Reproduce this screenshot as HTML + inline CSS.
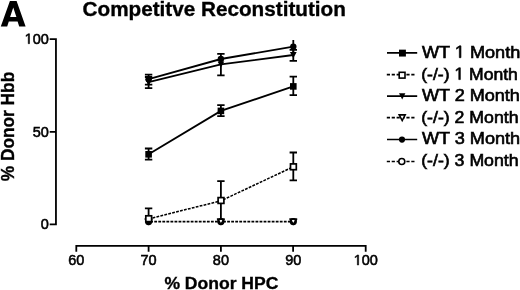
<!DOCTYPE html>
<html><head><meta charset="utf-8"><style>
html,body{margin:0;padding:0;background:#fff;}
svg{display:block;will-change:transform;}
text{font-family:"Liberation Sans",sans-serif;fill:#000;}
.b{font-weight:bold;stroke:#000;stroke-width:0.35px;}
</style></head><body>
<svg width="520" height="290" viewBox="0 0 520 290">
<rect width="520" height="290" fill="#fff"/>
<path fill="#000" fill-rule="evenodd" d="M0.8 26.5L9.9 1H16.6L25.6 26.5H19.2L17.6 21.4H8.8L7.2 26.5ZM10.1 17.1L13.25 7.4L16.4 17.1Z"/>
<text transform="translate(82.6 15.6) scale(1.005 1)" class="b" font-size="20.6">Competitve Reconstitution</text>

<!-- y axis -->
<g stroke="#000" stroke-width="1.8" fill="none">
<path d="M49.7 39.2H55.95V224.3H49.7M49.7 131.9H55.95"/>
<path d="M76.3 251.8V245.85H365.7V251.8M148.6 245.85V251.8M220.9 245.85V251.8M293.1 245.85V251.8"/>
</g>
<g font-size="14.5" text-anchor="end" stroke="#000" stroke-width="0.55">
<text x="48.8" y="43.7">&#8199;00</text>
<text x="48.8" y="136.8">50</text>
<text x="48.8" y="228.9">0</text>
<path transform="translate(24.597 43.7) scale(0.007080 -0.007080)" d="M515 0H696V1409H530L197 1180V1010L515 1237Z" stroke-width="77"/>
</g>
<g font-size="14.5" text-anchor="middle" stroke="#000" stroke-width="0.55">
<text x="76.3" y="265">60</text>
<text x="148.6" y="265">70</text>
<text x="220.9" y="265">80</text>
<text x="293.2" y="265">90</text>
<text x="365.8" y="265">&#8199;00</text>
<path transform="translate(353.698 265) scale(0.007080 -0.007080)" d="M515 0H696V1409H530L197 1180V1010L515 1237Z" stroke-width="77"/>
</g>
<text transform="translate(164.4 288.5) scale(1.02 1)" class="b" font-size="17.2">% Donor HPC</text>
<text transform="translate(13.6 181.2) scale(1.04 1) rotate(-90)" class="b" font-size="17.3">% Donor Hbb</text>

<!-- series lines -->
<g stroke="#000" stroke-width="1.85" fill="none">
<polyline points="148.6,154.3 220.9,110.9 293.3,86.4"/>
<polyline points="148.6,82.2 220.9,64.4 293.3,55"/>
<polyline points="148.6,79.2 220.9,59 293.3,46.6"/>
</g>
<g stroke="#000" stroke-width="1.55" fill="none" stroke-dasharray="2.8 1.25">
<polyline points="148.6,218.9 220.9,200.8 293.3,166.8"/>
<polyline points="148.6,221.6 220.9,221.6 293.3,221.6" stroke-dashoffset="-1.6"/>
</g>

<!-- error bars -->
<g stroke="#000" stroke-width="1.8" fill="none">
<!-- WT 1M -->
<path d="M148.6 148.5V159.6M144.9 148.5H152.3M144.9 159.6H152.3"/>
<path d="M220.9 105.2V116.2M217.2 105.2H224.6M217.2 116.2H224.6"/>
<path d="M293.3 76.7V95.2M289.6 76.7H297M289.6 95.2H297"/>
<!-- -/- 1M -->
<path d="M148.6 208.3V218.6M144.9 208.3H152.3"/>
<path d="M220.9 181.1V219.7M217.2 181.1H224.6"/>
<path d="M293.3 152.5V180.3M289.6 152.5H297M289.6 180.3H297"/>
<!-- WT 3M -->
<path d="M148.6 74.7V84.6M144.9 74.7H152.3M144.9 84.6H152.3"/>
<path d="M220.9 53.9V63M217.2 53.9H224.6"/>
<path d="M293.3 40V52"/>
<!-- WT 2M -->
<path d="M148.6 77V88.1M144.9 77H152.3M144.9 88.1H152.3"/>
<path d="M220.9 60V75.3M217.2 75.3H224.6"/>
<path d="M293.3 49.9V60.8M289.6 49.9H297M289.6 60.8H297"/>
</g>

<!-- markers -->
<g fill="#000" stroke="none">
<rect x="145.3" y="151" width="6.6" height="6.6"/>
<rect x="217.6" y="107.6" width="6.6" height="6.6"/>
<rect x="290" y="83.1" width="6.6" height="6.6"/>
<path d="M145.2 79.2H152L148.6 85.4Z"/>
<path d="M217.5 61.4H224.3L220.9 67.6Z"/>
<path d="M289.9 52H296.7L293.3 58.2Z"/>
<circle cx="148.6" cy="79.2" r="3.2"/>
<circle cx="220.9" cy="59" r="3.2"/>
<circle cx="293.3" cy="46.6" r="3.2"/>
</g>
<g fill="#fff" stroke="#000" stroke-width="1.6" stroke-linejoin="round">
<path d="M145.3 219H151.9L148.6 224.3Z"/>
<path d="M217.6 219H224.2L220.9 224.3Z"/>
<path d="M290 219H296.6L293.3 224.3Z"/>
</g>
<g fill="none" stroke="#000" stroke-width="1.9">
<circle cx="148.6" cy="221.6" r="2.7" fill="#000"/>
<circle cx="220.9" cy="221.6" r="2.7"/>
<circle cx="293.3" cy="221.6" r="2.7"/>
</g>
<g fill="#fff" stroke="#000" stroke-width="1.7">
<rect x="145.8" y="215.8" width="5.8" height="5.8"/>
<rect x="218.1" y="197.6" width="5.8" height="5.8"/>
<rect x="290.5" y="163.9" width="5.8" height="5.8"/>
</g>

<!-- legend -->
<g stroke="#000" stroke-width="1.7" fill="none">
<path d="M387 52.9H417.2M387 96.2H417.2M387 139.5H417.2"/>
<path d="M386.8 74.6H415.8M386.8 117.7H415.8M386.8 161.5H415.8" stroke-dasharray="3.2 1.7"/>
</g>
<g fill="#000">
<rect x="399" y="49.65" width="6.9" height="6.9"/>
<path d="M399 93.3H405.4L402.2 99.5Z"/>
<circle cx="402" cy="139.6" r="3.1"/>
</g>
<g fill="#fff" stroke="#000" stroke-width="1.6">
<rect x="399.2" y="72.3" width="5.8" height="5.8"/>
<path d="M399.2 114.9H405.2L402.2 120.6Z"/>
<circle cx="401.8" cy="161.5" r="3"/>
</g>
<g font-size="17.2" stroke="#000" stroke-width="0.65">
<g transform="translate(421.9 57.7) scale(1.055 1)"><text>WT &#8199; Month</text><path transform="translate(31.163 0) scale(0.008398 -0.008398)" d="M515 0H696V1409H530L197 1180V1010L515 1237Z" stroke-width="77"/></g>
<g transform="translate(421.2 79.6) scale(1.023 1)"><text>(-/-) &#8199; Month</text><path transform="translate(32.422 0) scale(0.008398 -0.008398)" d="M515 0H696V1409H530L197 1180V1010L515 1237Z" stroke-width="77"/></g>
<text transform="translate(421.9 101.2) scale(1.051 1)">WT 2 Month</text>
<text transform="translate(421.2 122.6) scale(1.029 1)">(-/-) 2 Month</text>
<text transform="translate(421.9 144) scale(1.053 1)">WT 3 Month</text>
<text transform="translate(421.2 166) scale(1.031 1)">(-/-) 3 Month</text>
</g>
</svg>
</body></html>
